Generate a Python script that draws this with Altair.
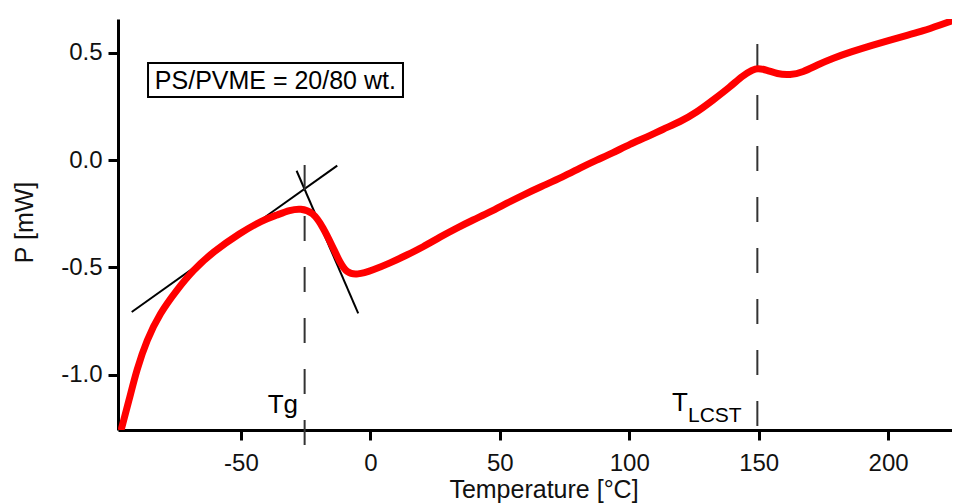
import altair as alt
import pandas as pd

# DSC curve
temp = [-96.1, -92.9, -90.3, -86.4, -81.3, -74.8, -68.5, -60.8, -50.4, -41.5,
        -36.1, -31.1, -27.0, -22.2, -18.3, -14.5, -11.7, -9.0, -5.2, 1.0,
        7.6, 14.1, 20.3, 26.9, 33.5, 39.6, 46.2, 52.8, 59.0, 65.5,
        74.4, 81.0, 87.5, 93.7, 100.3, 106.9, 113.1, 119.6, 126.2, 132.4,
        139.0, 144.0, 147.8, 149.4, 153.2, 157.1, 162.1, 167.2, 172.6, 178.8,
        185.4, 194.2, 200.8, 207.4, 213.5, 220.1, 226.7]
power = [-1.247, -1.102, -0.977, -0.837, -0.712, -0.605, -0.512, -0.428, -0.340, -0.279,
         -0.256, -0.233, -0.225, -0.242, -0.312, -0.405, -0.479, -0.526, -0.535, -0.512,
         -0.479, -0.442, -0.405, -0.358, -0.316, -0.279, -0.242, -0.200, -0.163, -0.126,
         -0.079, -0.037, 0.000, 0.033, 0.074, 0.107, 0.144, 0.177, 0.223, 0.279,
         0.340, 0.395, 0.419, 0.428, 0.419, 0.400, 0.395, 0.409, 0.442, 0.474,
         0.502, 0.535, 0.558, 0.581, 0.600, 0.628, 0.656]

# tangent lines at the glass transition
tan1_x = [-92.2, -12.8]
tan1_y = [-0.707, -0.026]
tan2_x = [-28.5, -4.7]
tan2_y = [-0.050, -0.713]

# dashed markers
mark_x = [-25.4, 149.5]
mark_top = [-0.023, 0.54]
mark_bot = [-1.34, -1.256]

x_ticks = [-50, 0, 50, 100, 150, 200]
y_ticks = [-1.0, -0.5, 0.0, 0.5]
x_domain = [-97.5, 224.7]
y_domain = [-1.256, 0.656]

FONT = "Liberation Sans"

xscale = alt.Scale(domain=x_domain, nice=False, zero=False)
yscale = alt.Scale(domain=y_domain, nice=False, zero=False)
xaxis = alt.Axis(values=x_ticks, title="Temperature [°C]",
                 labelExpr="replace(format(datum.value, '.0f'), '\u2212', '-')",
                 titleX=425.5, titleY=67, titleBaseline="alphabetic",
                 titleAlign="center", labelPadding=11)
yaxis = alt.Axis(values=y_ticks, title="P [mW]",
                 labelExpr="replace(format(datum.value, '.1f'), '\u2212', '-')",
                 titleX=-86, titleY=203, titleBaseline="alphabetic",
                 titleAlign="center", titleAngle=270, labelPadding=6)


def X(field="x"):
    return alt.X(f"{field}:Q", scale=xscale, axis=xaxis)


def Y(field="y"):
    return alt.Y(f"{field}:Q", scale=yscale, axis=yaxis)


curve_df = pd.DataFrame({"x": temp, "y": power})
curve = alt.Chart(curve_df).mark_line(
    color="#ff0000", strokeWidth=7, interpolate="basis", clip=True,
    strokeCap="round"
).encode(x=X(), y=Y())

t1 = alt.Chart(pd.DataFrame({"x": tan1_x, "y": tan1_y})).mark_line(
    color="black", strokeWidth=2).encode(x=X(), y=Y())
t2 = alt.Chart(pd.DataFrame({"x": tan2_x, "y": tan2_y})).mark_line(
    color="black", strokeWidth=2).encode(x=X(), y=Y())

rules = alt.Chart(pd.DataFrame({"x": mark_x, "y": mark_top, "y2": mark_bot})).mark_rule(
    color="#333333", strokeWidth=2, strokeDash=[25, 26], clip=False
).encode(x=X(), y=Y(), y2="y2:Q")

# annotation box
box_df = pd.DataFrame({"x": [-85.9], "x2": [12.6], "y": [0.451], "y2": [0.293]})
box = alt.Chart(box_df).mark_rect(fill="white", stroke="black", strokeWidth=2).encode(
    x=X(), x2="x2:Q", y=Y(), y2="y2:Q")
box_text = alt.Chart(pd.DataFrame({"x": [-36.7], "y": [0.372], "t": ["PS/PVME = 20/80 wt."]})).mark_text(
    font=FONT, fontSize=25, color="black", align="center", baseline="middle", dy=1
).encode(x=X(), y=Y(), text="t:N")

tg_text = alt.Chart(pd.DataFrame({"x": [-33.8], "y": [-1.177], "t": ["Tg"]})).mark_text(
    font=FONT, fontSize=26, color="black", align="center", baseline="alphabetic"
).encode(x=X(), y=Y(), text="t:N")
tl_T = alt.Chart(pd.DataFrame({"x": [116.5], "y": [-1.168], "t": ["T"]})).mark_text(
    font=FONT, fontSize=26, color="black", align="left", baseline="alphabetic"
).encode(x=X(), y=Y(), text="t:N")
tl_sub = alt.Chart(pd.DataFrame({"x": [122.7], "y": [-1.219], "t": ["LCST"]})).mark_text(
    font=FONT, fontSize=21, color="black", align="left", baseline="alphabetic"
).encode(x=X(), y=Y(), text="t:N")

chart = alt.layer(box, box_text, t1, t2, rules, curve, tg_text, tl_T, tl_sub).properties(
    width=834, height=411,
    padding={"left": 110, "top": 11, "right": 0, "bottom": 73},
    autosize=alt.AutoSizeParams(type="none"),
).configure_view(stroke=None).configure_axis(
    grid=False, domainColor="black", domainWidth=3, tickColor="black",
    tickWidth=3, tickSize=10, labelFont=FONT, labelFontSize=24,
    labelColor="#111111", titleFont=FONT, titleFontSize=25,
    titleFontWeight="normal", titleColor="#111111"
).configure_axisX(titleFontSize=25)

chart.save("out.html", embed_options={"renderer": "svg", "actions": False})
